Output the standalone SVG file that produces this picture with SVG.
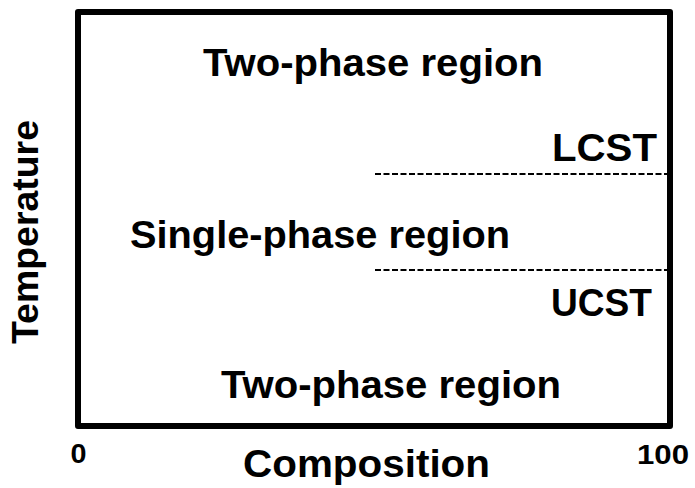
<svg xmlns="http://www.w3.org/2000/svg" width="695" height="488" viewBox="0 0 695 488">
<style>
text{font-family:"Liberation Sans",Arial,sans-serif;font-weight:bold;fill:#000}
.dash{stroke:#000;stroke-width:1.8;stroke-dasharray:6 2.5;fill:none}
</style>
<rect x="0" y="0" width="695" height="488" fill="#fff"/>
<g id="frame"><rect x="78" y="12" width="592" height="414" fill="none" stroke="#000" stroke-width="6" stroke-linejoin="round"/></g>
<g id="connectors">
<line class="dash" x1="375" y1="174" x2="667" y2="174"/>
<line class="dash" x1="375" y1="270" x2="667" y2="270"/>
</g>
<g id="two-phase-top"><text x="203" y="76" font-size="38" textLength="340" lengthAdjust="spacingAndGlyphs">Two-phase region</text></g>
<g id="lcst"><text x="552" y="161" font-size="38" textLength="105" lengthAdjust="spacingAndGlyphs">LCST</text></g>
<g id="single-phase"><text x="130" y="248" font-size="38" textLength="380" lengthAdjust="spacingAndGlyphs">Single-phase region</text></g>
<g id="ucst"><text x="551" y="316" font-size="38" textLength="101" lengthAdjust="spacingAndGlyphs">UCST</text></g>
<g id="two-phase-bottom"><text x="221" y="398" font-size="38" textLength="340" lengthAdjust="spacingAndGlyphs">Two-phase region</text></g>
<g id="x-label"><text x="243" y="477" font-size="38" textLength="247" lengthAdjust="spacingAndGlyphs">Composition</text></g>
<g id="y-label"><text transform="translate(38,232) rotate(-90)" text-anchor="middle" font-size="37" textLength="224" lengthAdjust="spacingAndGlyphs">Temperature</text></g>
<g id="x-min"><text x="70.5" y="463" font-size="28" textLength="16" lengthAdjust="spacingAndGlyphs">0</text></g>
<g id="x-max"><text x="637" y="464" font-size="28" textLength="52" lengthAdjust="spacingAndGlyphs">100</text></g>
</svg>
